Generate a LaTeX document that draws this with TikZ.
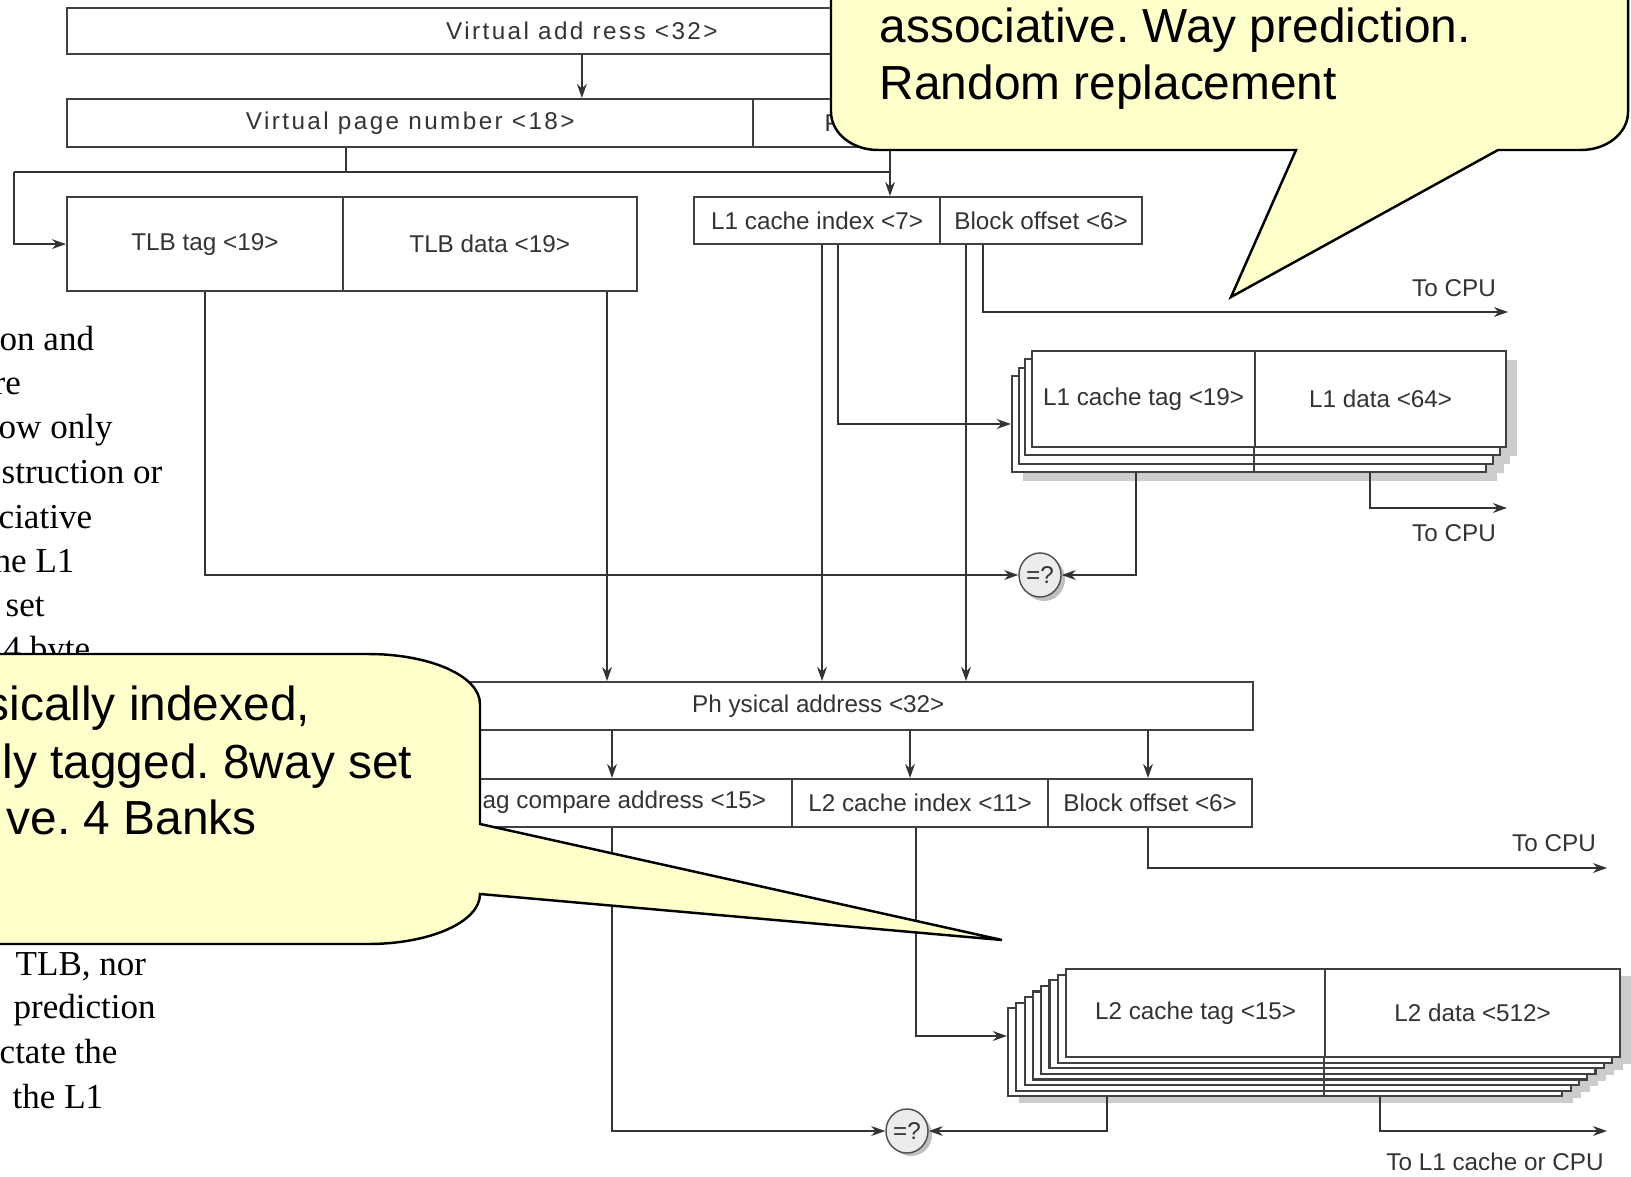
\documentclass[tikz,border=0pt]{standalone}
\usepackage{fontspec}
\setmainfont{Liberation Serif}
\newfontfamily\diagfont{Liberation Sans}
\newfontfamily\spreadfont[LetterSpace=10]{Liberation Sans}
\newfontfamily\notefont{Liberation Sans}
\usetikzlibrary{arrows.meta,shapes.geometric}
\definecolor{noteyellow}{HTML}{FFFFCC}
\newcommand\figfont{\diagfont\fontsize{6.9}{8.3}\selectfont}
\newcommand\figspread{\spreadfont\fontsize{6.9}{8.3}\selectfont}
\newcommand\notesize{\notefont\fontsize{13.6}{16.2}\selectfont}
\newcommand\bodysize{\fontsize{9.96}{12.6}\selectfont}
\frenchspacing
\tikzset{
  field/.style={rectangle, draw=black!75, line width=0.6pt, fill=white, inner sep=0pt, anchor=north west, font=\figfont, text=black!80},
  spread/.style={font=\figspread},
  divider/.style={draw=black!75, line width=0.6pt},
  cmp/.style={ellipse, draw=black!70, fill=gray!15, minimum width=4.2mm, minimum height=4.4mm, inner sep=0pt, font=\figfont, text=black!80},
  wire/.style={draw=black!80, line width=0.45pt},
  arr/.style={wire, -{Stealth[length=4pt,width=2.8pt]}},
  lbl/.style={font=\figfont, text=black!80, inner sep=0pt},
  note/.style={fill=noteyellow, draw=black, line width=0.7pt},
  notetext/.style={font=\notesize, anchor=base west, inner sep=0pt},
  bodytext/.style={font=\bodysize, anchor=base west, inner sep=0pt}
}

\begin{document}
\begin{tikzpicture}[x=0.01cm, y=-0.01cm]
\useasboundingbox (0,0) rectangle (1631,1176);
\clip (0,0) rectangle (1631,1176);

% text of the page behind the notes
\node[bodytext] (bodya) at (-1,350) {on and};
\node[bodytext] (bodyb) at (-7,394) {re};
\node[bodytext] (bodyc) at (-2,438) {ow only};
\node[bodytext] (bodyd) at (1,483) {struction or};
\node[bodytext] (bodye) at (-2,528) {ciative};
\node[bodytext] (bodyf) at (-7,572) {he L1};
\node[bodytext] (bodyg) at (5,616) {set};
\node[bodytext] (bodyh) at (3,660) {4 byte};
\node[bodytext] (bodyi) at (15,975) {TLB, nor};
\node[bodytext] (bodyj) at (13,1018) {prediction};
\node[bodytext] (bodyk) at (-1,1063) {ctate the};
\node[bodytext] (bodyl) at (12,1108) {the L1};

% virtual address and TLB
\node[field, spread, minimum width=10.29cm, minimum height=0.46cm] (va) at (66,7) {Virtual add ress <32>};
\node[field, spread, minimum width=6.86cm, minimum height=0.48cm] (vpn) at (66,98) {Virtual page number <18>};
\node[field, minimum width=3.43cm, minimum height=0.48cm] (poff) at (752,98) {};
\node[lbl, spread, anchor=west] (poffl) at (824,123) {P};
\node[field, minimum width=2.756cm, minimum height=0.94cm] (tlbtag) at (66,196) {TLB tag <19>};
\node[field, minimum width=2.939cm, minimum height=0.94cm] (tlbdata) at (341.6,196) {TLB data <19>};
\node[field, minimum width=2.46cm, minimum height=0.47cm] (lonei) at (693,196) {L1 cache index <7>};
\node[field, minimum width=2.02cm, minimum height=0.47cm] (loneoff) at (939,196) {Block offset <6>};

% L1 cache ways
\foreach \k in {3,2,1,0} \fill[gray!40] ({1043-6.7*\k},{360+8.3*\k}) rectangle ++(474,96);
\foreach \k in {3,2,1} {
  \node[field, minimum width=4.74cm, minimum height=0.96cm] (lonebox\k) at ({1031-6.7*\k},{350+8.3*\k}) {};
  \draw[divider] (1254,{350+8.3*\k}) -- (1254,{446+8.3*\k});
}
\node[field, minimum width=2.23cm, minimum height=0.96cm] (lonetag) at (1031,350) {L1 cache tag <19>};
\node[field, minimum width=2.51cm, minimum height=0.96cm] (lonedata) at (1254,350) {L1 data <64>};

\fill[gray!50] (1044,579) ellipse [x radius=21, y radius=22];
\node[cmp] (cmpone) at (1040,575) {=?};

% physical address and L2
\node[field, minimum width=8.68cm, minimum height=0.48cm] (pa) at (383,681) {Ph ysical address <32>};
\node[field, minimum width=3.44cm, minimum height=0.48cm] (ltag) at (447,778) {};
\node[lbl, anchor=west] (ltagl) at (482,802) {ag compare address <15>};
\node[field, minimum width=2.56cm, minimum height=0.48cm] (ltwoidx) at (791,778) {L2 cache index <11>};
\node[field, minimum width=2.04cm, minimum height=0.48cm] (ltwooff) at (1047,778) {Block offset <6>};

% L2 cache ways
\foreach \k in {7,...,0} \fill[gray!40] ({1077-8.3*\k},{976+5.6*\k}) rectangle ++(554,88);
\foreach \k in {7,...,1} {
  \node[field, minimum width=5.54cm, minimum height=0.88cm] (ltwobox\k) at ({1065-8.3*\k},{968+5.6*\k}) {};
  \draw[divider] (1324,{968+5.6*\k}) -- (1324,{1056+5.6*\k});
}
\node[field, minimum width=2.59cm, minimum height=0.88cm] (ltwotag) at (1065,968) {L2 cache tag <15>};
\node[field, minimum width=2.95cm, minimum height=0.88cm] (ltwodata) at (1324,968) {L2 data <512>};

\fill[gray!50] (911,1135) ellipse [x radius=21, y radius=21];
\node[cmp] (cmptwo) at (907,1131) {=?};

% labels of the outputs
\node[lbl] (tocpua) at (1454,288) {To CPU};
\node[lbl] (tocpub) at (1454,533) {To CPU};
\node[lbl] (tocpuc) at (1554,843) {To CPU};
\node[lbl] (tolone) at (1495,1162) {To L1 cache or CPU};

% columns and rows of the wires
\coordinate (vsplit) at (346,172);
\coordinate (jl) at (14,172);
\coordinate (jr) at (890,172);
\coordinate (colA) at (607,0);
\coordinate (colB) at (822,0);
\coordinate (colC) at (838,0);
\coordinate (colD) at (966,0);
\coordinate (colE) at (983,0);
\coordinate (colF) at (1136,0);
\coordinate (colG) at (1370,0);
\coordinate (colH) at (612,0);
\coordinate (colI) at (910,0);
\coordinate (colJ) at (1148,0);
\coordinate (colK) at (916,0);
\coordinate (colL) at (1107,0);
\coordinate (colM) at (1380,0);
\coordinate (rowL2) at (0,1036);
\coordinate (outa) at (1508,312);
\coordinate (outb) at (1507,508);
\coordinate (outc) at (1607,868);
\coordinate (outd) at (1607,1131);

\draw[arr] (va.south) -- (va.south |- vpn.north);
\draw[wire] (vsplit |- vpn.south) -- (vsplit);
\draw[wire] (jl) -- (jr);
\draw[arr] (jl) |- (tlbtag.west);
\draw[arr] (jr |- poff.south) -- (jr |- lonei.north);
\draw[arr] (tlbtag.south) |- (cmpone.west);
\draw[arr] (colA |- tlbdata.south) -- (colA |- pa.north);
\draw[arr] (colB |- lonei.south) -- (colB |- pa.north);
\draw[arr] (colC |- lonei.south) |- (lonebox3.west);
\draw[arr] (colD |- loneoff.south) -- (colD |- pa.north);
\draw[arr] (colE |- loneoff.south) |- (outa);
\draw[arr] (colF |- lonebox3.south) |- (cmpone.east);
\draw[arr] (colG |- lonebox3.south) |- (outb);
\draw[arr] (colH |- pa.south) -- (colH |- ltag.north);
\draw[arr] (colI |- pa.south) -- (colI |- ltwoidx.north);
\draw[arr] (colJ |- pa.south) -- (colJ |- ltwooff.north);
\draw[arr] (colH |- ltag.south) |- (cmptwo.west);
\draw[arr] (colK |- ltwoidx.south) |- (ltwobox7.west |- rowL2);
\draw[arr] (colJ |- ltwooff.south) |- (outc);
\draw[arr] (colL |- ltwobox7.south) |- (cmptwo.east);
\draw[arr] (colM |- ltwobox7.south) |- (outd);

% notes on top
\draw[note] (831,-60) -- (831,112) .. controls (831,133) and (852,150) .. (878,150) -- (1296,150) -- (1231,297) -- (1498,150) -- (1581,150) .. controls (1607,150) and (1628,133) .. (1628,112) -- (1628,-60) -- cycle;
\node[notetext] (notea) at (879,43) {associative. Way prediction.};
\node[notetext] (noteb) at (879,100) {Random replacement};

\draw[note] (-60,654) -- (368,654) .. controls (430,654) and (480,676) .. (480,704) -- (480,824) -- (1002,940) -- (480,894) .. controls (480,922) and (430,944) .. (368,944) -- (-60,944) -- cycle;
\node[notetext] (notec) at (-15,720) {sically indexed,};
\node[notetext] (noted) at (2,778) {ly tagged. 8way set};
\node[notetext] (notee) at (6,834) {ve. 4 Banks};
\end{tikzpicture}
\end{document}
